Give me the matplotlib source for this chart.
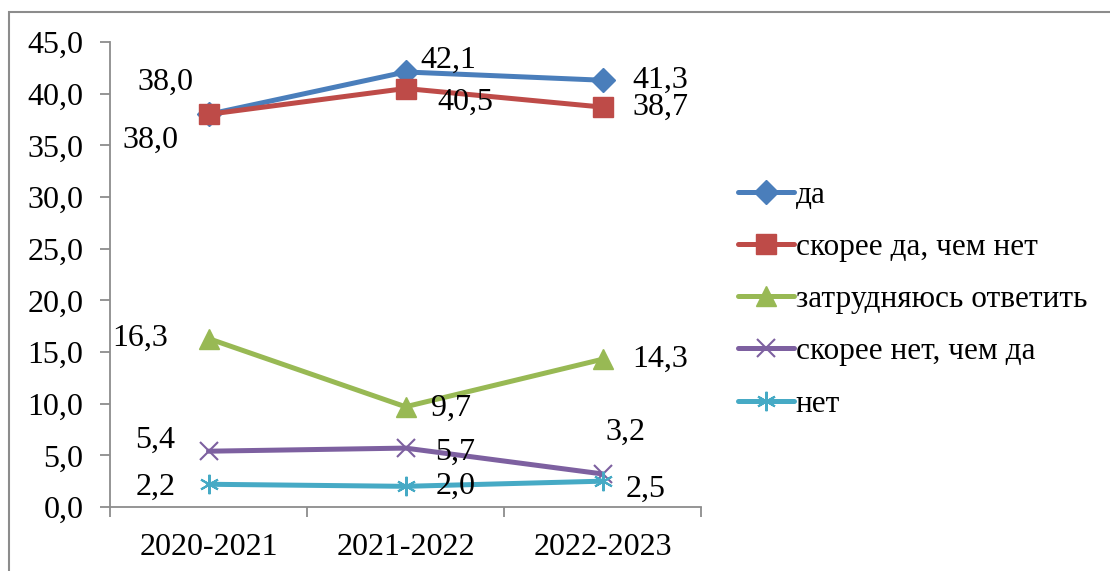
import matplotlib
matplotlib.use("Agg")
from matplotlib import pyplot as plt
from matplotlib.patches import Rectangle

plt.rcParams['font.family'] = ['Liberation Serif', 'DejaVu Serif']

years = ["2020-2021", "2021-2022", "2022-2023"]
series_names = ["да", "скорее да, чем нет", "затрудняюсь ответить", "скорее нет, чем да", "нет"]
da = [38.0, 42.1, 41.3]
skoree_da = [38.0, 40.5, 38.7]
zatrudn = [16.3, 9.7, 14.3]
skoree_net = [5.4, 5.7, 3.2]
net = [2.2, 2.0, 2.5]
yticks = [0, 5, 10, 15, 20, 25, 30, 35, 40, 45]

colors = ["#4A7EBB", "#BE4B48", "#98B954", "#7D60A0", "#46AAC5"]
markers = ["D", "s", "^", "x", (6, 2, 0)]
msizes = [12, 14, 14, 13, 14]
# смещения подписей (пиксели) для каждой точки
offsets = [
    [(-43, 32), (43, 12), (58, 0)],
    [(-58, -26), (60, -14), (58, 0)],
    [(-68, 0), (45, -2), (58, 0)],
    [(-53, 11), (50, -4), (23, 42)],
    [(-53, -3), (50, 0), (43, -8)],
]

fig = plt.figure(figsize=(11.1, 5.71), dpi=100)
fig.patches.append(Rectangle((9 / 1110, -0.1), 1.2, (571 - 12) / 571 + 0.1,
                             transform=fig.transFigure, fill=False,
                             edgecolor="#8c8c8c", lw=1.5))
ax = fig.add_axes([110 / 1110, 1 - 507 / 571, 591 / 1110, 465 / 571])

all_data = [da, skoree_da, zatrudn, skoree_net, net]
x = [0.5, 1.5, 2.5]
for vals, name, c, m, ms, offs in zip(all_data, series_names, colors, markers, msizes, offsets):
    ax.plot(x, vals, color=c, lw=3.6, marker=m, markersize=ms, markeredgecolor=c,
            markeredgewidth=1.5 if m in ("x", (6, 2, 0)) else 1, label=name,
            solid_capstyle="round")
    for xi, v, o in zip(x, vals, offs):
        ax.annotate(f"{v:.1f}".replace(".", ","), (xi, v), xytext=o,
                    textcoords="offset pixels", ha="center", va="center", fontsize=23)

ax.set_xlim(0, 3)
ax.set_ylim(0, 45)
ax.set_yticks(yticks)
ax.set_yticklabels([f"{t:.1f}".replace(".", ",") for t in yticks], fontsize=23)
ax.set_xticks([0.5, 1.5, 2.5])
ax.set_xticklabels(years, fontsize=23)
ax.set_xticks([0, 1, 2, 3], minor=True)
ax.tick_params(axis="x", which="major", length=0, pad=19)
ax.tick_params(axis="x", which="minor", length=7, color="#8c8c8c", width=1.3)
ax.tick_params(axis="y", length=7, color="#8c8c8c", width=1.3, pad=12)
for s in ["top", "right"]:
    ax.spines[s].set_visible(False)
for s in ["left", "bottom"]:
    ax.spines[s].set_color("#8c8c8c")
    ax.spines[s].set_linewidth(1.3)

fig.legend(loc="upper left", bbox_to_anchor=(738 / 1110, 1 - 181 / 571), frameon=False,
           fontsize=22.5, handlelength=1.8, handletextpad=0.05, labelspacing=0.74,
           borderaxespad=0, borderpad=0)

fig.savefig("out.png", dpi=100)
